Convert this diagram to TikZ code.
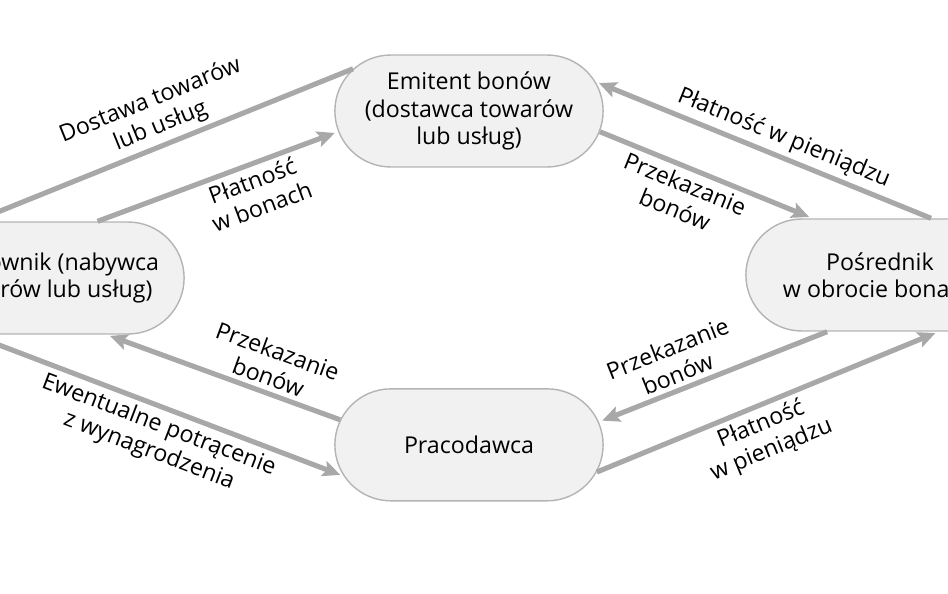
\documentclass[tikz,border=0pt]{standalone}
\usepackage{fontspec}
\setmainfont{Open Sans}
\usetikzlibrary{arrows.meta,positioning,shapes.misc}

\definecolor{boxfill}{HTML}{F1F1F1}
\definecolor{boxline}{HTML}{B4B4B4}
\definecolor{arrgray}{HTML}{A8A8A8}

\begin{document}
\begin{tikzpicture}[
    x=0.02cm, y=-0.02cm,
    font=\fontsize{13.2}{15.6}\selectfont,
    party/.style={draw=boxline, fill=boxfill, rounded rectangle, line width=0.8pt, align=center, minimum width=5.6cm, minimum height=2.24cm},
    flow/.style={draw=arrgray, line width=2.9pt, shorten >=2pt, -{Stealth[length=10pt, width=9pt, inset=2pt]}},
    lab/.style={align=center, inner sep=2.5pt, sloped},
  ]
    \useasboundingbox (0,0) rectangle (948,593);
    \clip (0,0) rectangle (948,593);

    \node[party] (emit) at (469,111) {Emitent bonów\\(dostawca towarów\\lub usług)};
    \node[party, below=4.41cm of emit] (empl) {Pracodawca};
    \node[party] (buyer) at (50,278) {Pracownik (nabywca\\towarów lub usług)};
    \node[party] (agent) at (880,275) {Pośrednik\\w obrocie bonami};

    % emitent <-> pracownik
    \draw[flow] (emit.160) -- node[lab, pos=0.49, above] (l1) {Dostawa towarów\\lub usług} (buyer.143);
    \draw[flow] (buyer.50) -- node[lab, pos=0.62, below] (l2) {Płatność\\w bonach} (emit.189);
    % emitent <-> posrednik
    \draw[flow] (agent.48) -- node[lab, pos=0.46, above] (l3) {Płatność w pieniądzu} (emit.13);
    \draw[flow] (emit.-9) -- node[lab, pos=0.43, below] (l4) {Przekazanie\\bonów} (agent.140);
    % posrednik <-> pracodawca
    \draw[flow] (agent.227) -- node[lab, pos=0.63, above] (l5) {Przekazanie\\bonów} (empl.10);
    \draw[flow] (empl.-12) -- node[lab, pos=0.46, below] (l6) {Płatność\\w pieniądzu} (agent.-44);
    % pracodawca <-> pracownik
    \draw[flow] (empl.169) -- node[lab, pos=0.33, above] (l7) {Przekazanie\\bonów} (buyer.-45);
    \draw[flow] (buyer.216) -- node[lab, pos=0.52, below] (l8) {Ewentualne potrącenie\\z wynagrodzenia} (empl.194);
\end{tikzpicture}
\end{document}
